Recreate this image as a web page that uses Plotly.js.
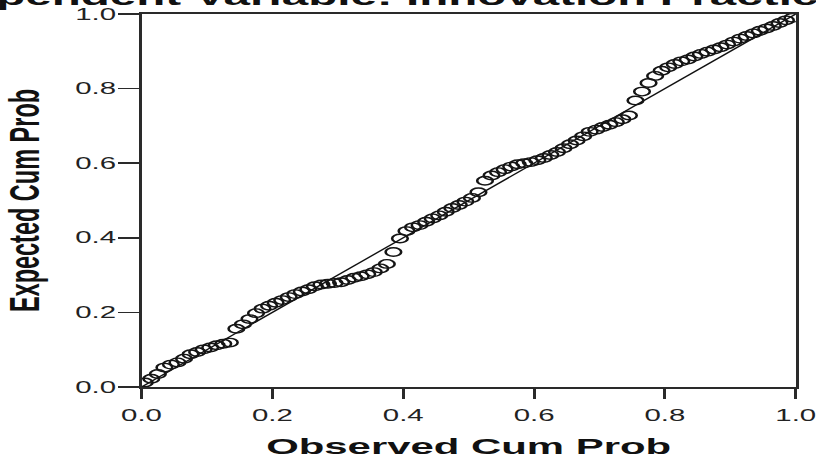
<!DOCTYPE html>
<html>
<head>
<meta charset="utf-8">
<script src="https://cdn.plot.ly/plotly-3.0.1.min.js"></script>
<style>
  html, body { margin: 0; padding: 0; background: #ffffff; overflow: hidden; }
  #chart { width: 444px; height: 459px; transform: scaleX(1.8378); transform-origin: 0 0; }
</style>
</head>
<body>
<div id="chart"></div>
<script>
// Observed cumulative probability (x) and expected cumulative probability (y)
const observedCumProb = [
  0.005, 0.015, 0.025, 0.035, 0.045, 0.055, 0.065, 0.075, 0.085, 0.095,
  0.105, 0.115, 0.125, 0.135, 0.145, 0.155, 0.165, 0.175, 0.185, 0.195,
  0.205, 0.215, 0.225, 0.235, 0.245, 0.255, 0.265, 0.275, 0.285, 0.295,
  0.305, 0.315, 0.325, 0.335, 0.345, 0.355, 0.365, 0.375, 0.385, 0.395,
  0.405, 0.415, 0.425, 0.435, 0.445, 0.455, 0.465, 0.475, 0.485, 0.495,
  0.505, 0.515, 0.525, 0.535, 0.545, 0.555, 0.565, 0.575, 0.585, 0.595,
  0.605, 0.615, 0.625, 0.635, 0.645, 0.655, 0.665, 0.675, 0.685, 0.695,
  0.705, 0.715, 0.725, 0.735, 0.745, 0.755, 0.765, 0.775, 0.785, 0.795,
  0.805, 0.815, 0.825, 0.835, 0.845, 0.855, 0.865, 0.875, 0.885, 0.895,
  0.905, 0.915, 0.925, 0.935, 0.945, 0.955, 0.965, 0.975, 0.985, 0.995
];
const expectedCumProb = [
  0.012, 0.022, 0.035, 0.052, 0.060, 0.066, 0.076, 0.088, 0.094, 0.101,
  0.106, 0.112, 0.116, 0.119, 0.156, 0.168, 0.182, 0.198, 0.210, 0.218,
  0.226, 0.233, 0.241, 0.249, 0.256, 0.262, 0.270, 0.275, 0.277, 0.279,
  0.281, 0.287, 0.293, 0.297, 0.302, 0.308, 0.318, 0.330, 0.362, 0.398,
  0.418, 0.428, 0.434, 0.443, 0.452, 0.460, 0.470, 0.480, 0.488, 0.497,
  0.507, 0.522, 0.553, 0.567, 0.576, 0.584, 0.591, 0.597, 0.600, 0.603,
  0.608, 0.614, 0.622, 0.630, 0.640, 0.651, 0.661, 0.672, 0.684, 0.690,
  0.697, 0.703, 0.710, 0.718, 0.728, 0.768, 0.792, 0.815, 0.834, 0.848,
  0.857, 0.866, 0.873, 0.878, 0.886, 0.893, 0.899, 0.905, 0.911, 0.918,
  0.926, 0.934, 0.941, 0.948, 0.955, 0.961, 0.968, 0.976, 0.983, 0.990
];
// Reference diagonal
const diagonalX = [0, 1];
const diagonalY = [0, 1];
const tickValues = [0, 0.2, 0.4, 0.6, 0.8, 1.0];
const tickLabels = ['0.0', '0.2', '0.4', '0.6', '0.8', '1.0'];

const chartTitle = 'Dependent Variable: Innovation Practice';
const xTitle = 'Observed Cum Prob';
const yTitle = 'Expected Cum Prob';

const FONT = '"Liberation Sans", Arial, Helvetica, sans-serif';

const traces = [
  {
    x: diagonalX, y: diagonalY, type: 'scatter', mode: 'lines',
    line: { color: '#111111', width: 1.1 },
    hoverinfo: 'skip', showlegend: false
  },
  {
    x: observedCumProb, y: expectedCumProb, type: 'scatter', mode: 'markers',
    marker: { symbol: 'circle-open', size: 8.5, color: '#151515', line: { color: '#151515', width: 1.4 } },
    showlegend: false
  }
];

const axisCommon = {
  range: [0, 1],
  tickvals: tickValues,
  ticktext: tickLabels,
  showgrid: false,
  zeroline: false,
  showline: true,
  mirror: true,
  linecolor: '#2a2a2a',
  linewidth: 1.6,
  ticks: 'outside',
  tickcolor: '#2a2a2a',
  tickwidth: 1.6,
  ticklabeloverflow: 'allow',
  tickfont: { family: FONT, size: 16, color: '#222222' },
  fixedrange: true
};

const layout = {
  width: 444,
  height: 459,
  margin: { l: 77, r: 11, t: 14, b: 72 },
  paper_bgcolor: '#ffffff',
  plot_bgcolor: '#ffffff',
  title: {
    text: chartTitle,
    font: { family: FONT, size: 25.9, color: '#111111', weight: 'bold' },
    xref: 'container', yref: 'container',
    x: 0.478, xanchor: 'center',
    y: 0.9892, yanchor: 'bottom'
  },
  xaxis: Object.assign({}, axisCommon, {
    ticklen: 10,
    ticklabelstandoff: 3,
    title: { text: xTitle, font: { family: FONT, size: 22.8, color: '#111111', weight: 'bold' }, standoff: 15 }
  }),
  yaxis: Object.assign({}, axisCommon, {
    ticklen: 11,
    ticklabelstandoff: -2,
    title: { text: yTitle, font: { family: FONT, size: 23.5, color: '#111111', weight: 'bold' }, standoff: 15 }
  })
};

Plotly.newPlot('chart', traces, layout, { displayModeBar: false, staticPlot: true });
</script>
</body>
</html>
